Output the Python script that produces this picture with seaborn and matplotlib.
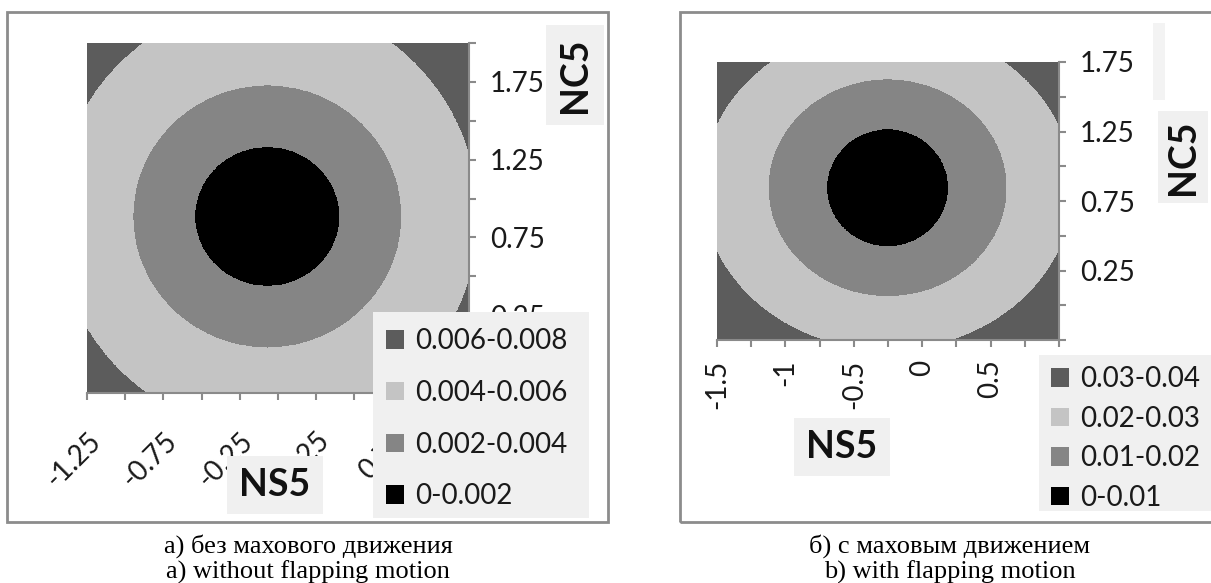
import numpy as np
import matplotlib
matplotlib.use("Agg")
import matplotlib.pyplot as plt
import seaborn as sns
from matplotlib.patches import Rectangle, Patch

# ---------------- data ----------------
# panel a) without flapping motion
levels_a = [0.0, 0.002, 0.004, 0.006, 0.008]
labels_a = ["0-0.002", "0.002-0.004", "0.004-0.006", "0.006-0.008"]
center_a = (-0.07, 0.885)              # centre of the concentric bands (NS5, NC5)
band_rx_a = [0.475, 0.88, 1.385]       # NS5 half-width of each band boundary
band_ry_a = [0.449, 0.845, 1.385]      # NC5 half-height of each band boundary
xlim_a = (-1.25, 1.25)
ylim_a = (-0.25, 2.0)
xticks_a = [-1.25, -1.0, -0.75, -0.5, -0.25, 0.0, 0.25, 0.5, 0.75, 1.0, 1.25]
xticklabels_a = ["-1.25", "", "-0.75", "", "-0.25", "", "0.25", "", "0.75", "", ""]
yticks_a = [-0.25, 0.0, 0.25, 0.5, 0.75, 1.0, 1.25, 1.5, 1.75, 2.0]
yticklabels_a = ["", "", "0.25", "", "0.75", "", "1.25", "", "1.75", ""]

# panel b) with flapping motion
levels_b = [0.0, 0.01, 0.02, 0.03, 0.04]
labels_b = ["0-0.01", "0.01-0.02", "0.02-0.03", "0.03-0.04"]
center_b = (-0.253, 0.845)
band_rx_b = [0.446, 0.874, 1.36]
band_ry_b = [0.424, 0.783, 1.17]
xlim_b = (-1.5, 1.0)
ylim_b = (-0.25, 1.75)
xticks_b = [-1.5, -1.25, -1.0, -0.75, -0.5, -0.25, 0.0, 0.25, 0.5, 0.75, 1.0]
xticklabels_b = ["-1.5", "", "-1", "", "-0.5", "", "0", "", "0.5", "", ""]
yticks_b = [-0.25, 0.0, 0.25, 0.5, 0.75, 1.0, 1.25, 1.5, 1.75]
yticklabels_b = ["", "", "0.25", "", "0.75", "", "1.25", "", "1.75"]

band_colors = ["#000000", "#858585", "#c4c4c4", "#5c5c5c"]
x_title = "NS5"
y_title = "NC5"
caption_a = ["а) без махового движения", "a) without flapping motion"]
caption_b = ["б) с маховым движением", "b) with flapping motion"]

# ---------------- styling ----------------
sns.set_theme(style="white")
plt.rcParams["font.family"] = ["Lato", "DejaVu Sans"]

W, H = 1211, 583
fig = plt.figure(figsize=(W / 100, H / 100), dpi=100)
fig.patch.set_facecolor("white")


def fx(px):
    return px / W


def fy(py):
    return 1 - py / H


AXIS_GREY = "#8a8a8a"
BOX_GREY = "#f0f0f0"


def band_field(xlim, ylim, center, rx, ry, levels, n=800):
    x = np.linspace(xlim[0], xlim[1], n)
    y = np.linspace(ylim[0], ylim[1], n)
    X, Y = np.meshgrid(x, y)
    idx = np.zeros(X.shape, dtype=int)
    for a, b in zip(rx, ry):
        idx += ((((X - center[0]) / a) ** 2 + ((Y - center[1]) / b) ** 2) >= 1).astype(int)
    lv = np.asarray(levels)
    mids = (lv[:-1] + lv[1:]) / 2
    return X, Y, mids[idx]


def make_panel(rect, xlim, ylim, center, rx, ry, levels, xticks, xtl, yticks, ytl,
               xrot, xpad):
    ax = fig.add_axes(rect)
    X, Y, Z = band_field(xlim, ylim, center, rx, ry, levels)
    ax.contourf(X, Y, Z, levels=levels, colors=band_colors)
    ax.set_xlim(*xlim)
    ax.set_ylim(*ylim)
    ax.yaxis.tick_right()
    ax.set_xticks(xticks)
    ax.set_yticks(yticks)
    ax.set_yticklabels(ytl)
    if xrot == 45:
        ax.set_xticklabels(xtl, rotation=45, ha="right", va="top", rotation_mode="anchor")
    else:
        ax.set_xticklabels(xtl, rotation=90, ha="right", va="center", rotation_mode="anchor")
    for s in ["left", "top"]:
        ax.spines[s].set_visible(False)
    for s in ["right", "bottom"]:
        ax.spines[s].set_visible(True)
        ax.spines[s].set_color(AXIS_GREY)
        ax.spines[s].set_linewidth(1.5)
    ax.tick_params(axis="both", which="major", length=5, width=1.5, color=AXIS_GREY,
                   labelsize=20, labelcolor="#1a1a1a")
    ax.tick_params(axis="x", bottom=True, pad=xpad)
    ax.tick_params(axis="y", right=True, left=False, pad=10)
    ax.set_xlabel("")
    ax.set_ylabel("")
    return ax


ax_a = make_panel([fx(87), fy(393), (469 - 87) / W, (393 - 43) / H],
                  xlim_a, ylim_a, center_a, band_rx_a, band_ry_a, levels_a,
                  xticks_a, xticklabels_a, yticks_a, yticklabels_a, 45, 20)
ax_b = make_panel([fx(717), fy(340), (1059 - 717) / W, (340 - 62) / H],
                  xlim_b, ylim_b, center_b, band_rx_b, band_ry_b, levels_b,
                  xticks_b, xticklabels_b, yticks_b, yticklabels_b, 90, 9)

# panel borders
fig.patches.append(Rectangle((fx(7), fy(522)), (608 - 7) / W, (522 - 12) / H,
                             transform=fig.transFigure, fill=False,
                             edgecolor="#8c8c8c", linewidth=2, zorder=1))
fig.patches.append(Rectangle((fx(680), fy(522)), (1230 - 680) / W, (522 - 12) / H,
                             transform=fig.transFigure, fill=False,
                             edgecolor="#8c8c8c", linewidth=2, zorder=1))

# light strip above the right NC5 title box
fig.patches.append(Rectangle((fx(1153), fy(100)), 12 / W, 77 / H,
                             transform=fig.transFigure, facecolor="#f3f3f3",
                             edgecolor="none", zorder=2))

# axis titles in grey boxes
tb = dict(facecolor=BOX_GREY, edgecolor="none", pad=9)
fig.text(fx(575), fy(75), y_title, rotation=90, ha="center", va="center",
         fontsize=27, fontweight="bold", color="#111111", bbox=tb, zorder=3)
fig.text(fx(275), fy(485), x_title, ha="center", va="center",
         fontsize=27, fontweight="bold", color="#111111", bbox=tb, zorder=3)
fig.text(fx(1183), fy(157), y_title, rotation=90, ha="center", va="center",
         fontsize=27, fontweight="bold", color="#111111",
         bbox=dict(facecolor=BOX_GREY, edgecolor="none", pad=6), zorder=3)
fig.text(fx(842), fy(447), x_title, ha="center", va="center",
         fontsize=27, fontweight="bold", color="#111111", bbox=tb, zorder=3)

# legend backgrounds
fig.patches.append(Rectangle((fx(373), fy(518)), (589 - 373) / W, (518 - 312) / H,
                             transform=fig.transFigure, facecolor=BOX_GREY,
                             edgecolor="none", zorder=3))
fig.patches.append(Rectangle((fx(1039), fy(511)), (1230 - 1039) / W, (511 - 355) / H,
                             transform=fig.transFigure, facecolor=BOX_GREY,
                             edgecolor="none", zorder=3))


def add_legend(labels, anchor, spacing):
    handles = [Patch(facecolor=c, edgecolor="none") for c in band_colors]
    leg = fig.legend(handles[::-1], labels[::-1], loc="upper left",
                     bbox_to_anchor=anchor, bbox_transform=fig.transFigure,
                     frameon=False, fontsize=20, handlelength=0.65, handleheight=0.65,
                     handletextpad=0.4, labelspacing=spacing, borderpad=0,
                     borderaxespad=0)
    for t in leg.get_texts():
        t.set_color("#1a1a1a")
    leg.set_zorder(6)
    return leg


add_legend(labels_a, (fx(386), fy(328)), 0.93)
add_legend(labels_b, (fx(1051), fy(366)), 0.49)

# captions
cap_font = dict(family=["Liberation Serif", "DejaVu Serif"], fontsize=19, color="#000000",
                ha="center", va="center")
fig.text(fx(308), fy(546), caption_a[0], **cap_font)
fig.text(fx(308), fy(572), caption_a[1], **cap_font)
fig.text(fx(950), fy(546), caption_b[0], **cap_font)
fig.text(fx(950), fy(572), caption_b[1], **cap_font)

fig.savefig("out.png", dpi=100, facecolor="white")
